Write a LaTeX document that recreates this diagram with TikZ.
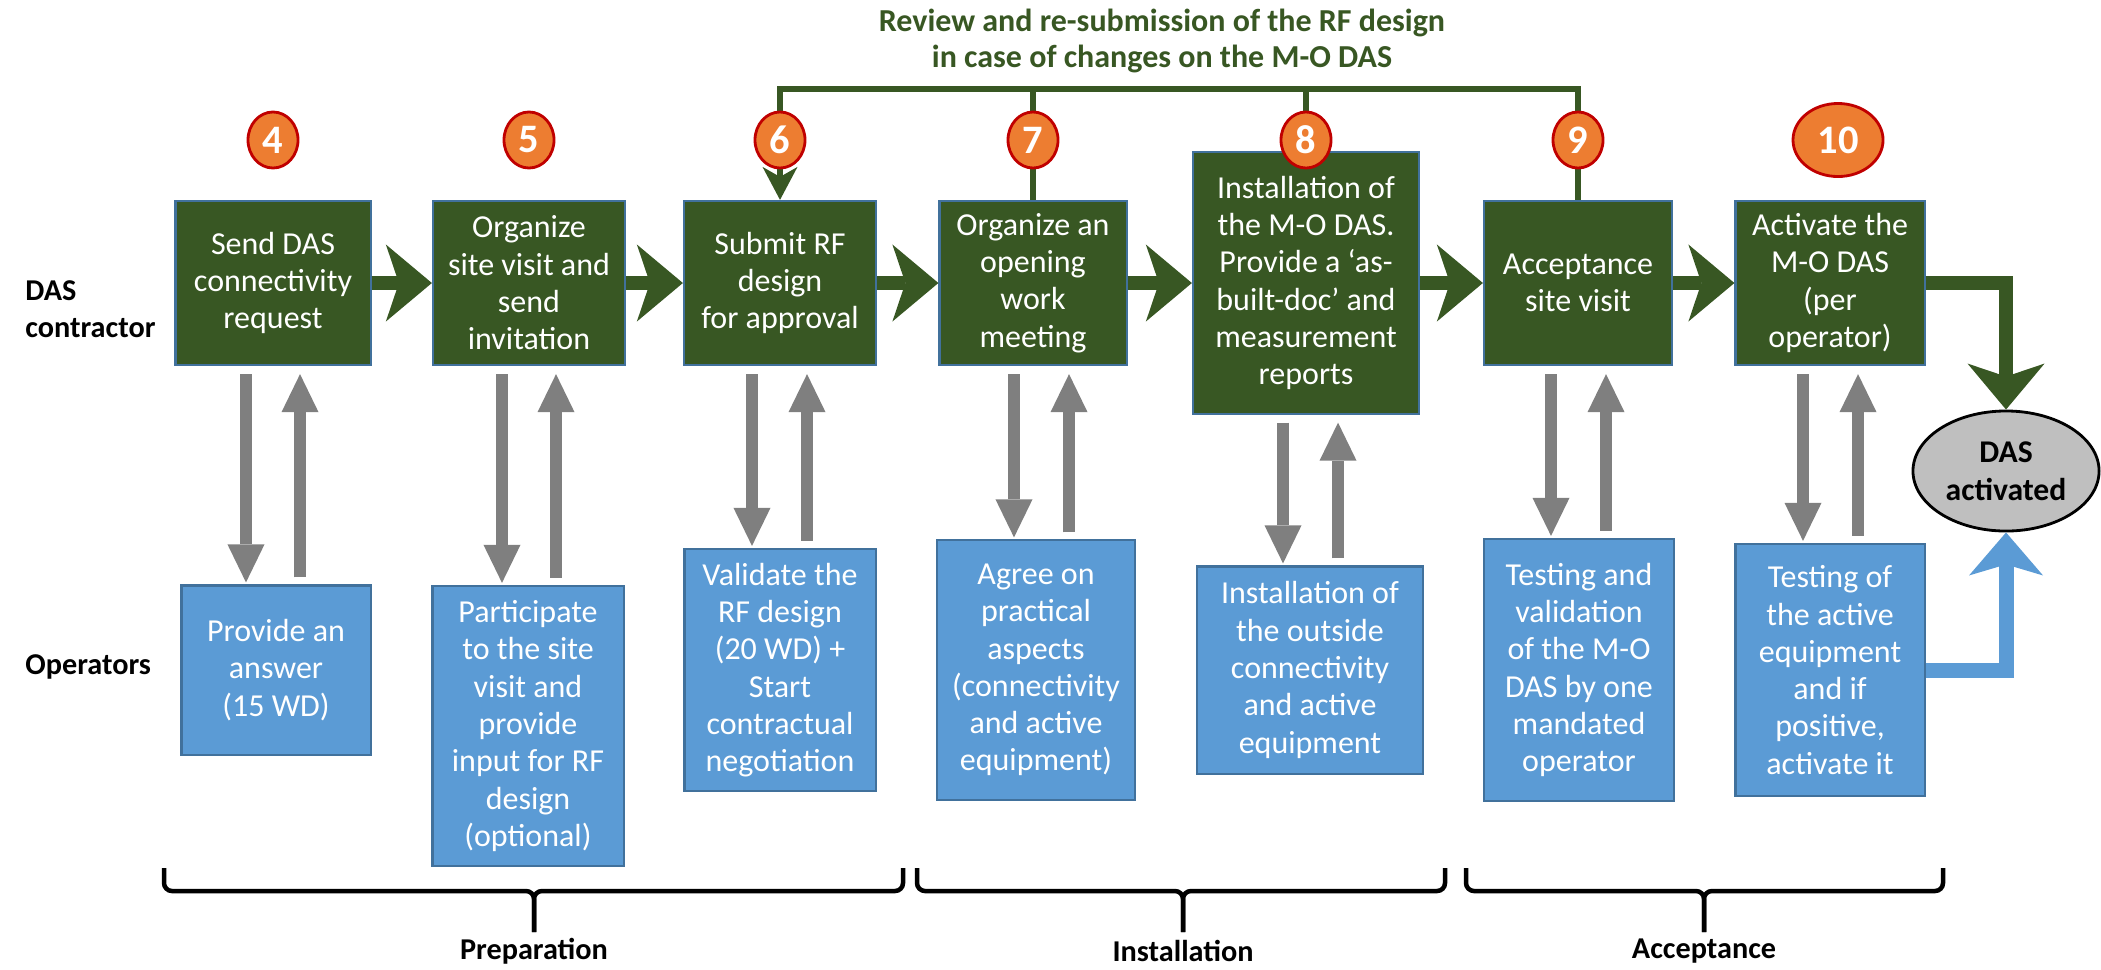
\documentclass[tikz,border=0pt]{standalone}
\usepackage{fontspec}
\setmainfont{Carlito}
\usepackage{tikz}
\usetikzlibrary{arrows.meta,shapes.geometric}
\definecolor{dasgreen}{HTML}{385723}
\definecolor{boxedge}{HTML}{41719C}
\definecolor{opblue}{HTML}{5B9BD5}
\definecolor{arrowgray}{HTML}{7F7F7F}
\definecolor{stepfill}{HTML}{ED7D31}
\definecolor{stepedge}{HTML}{C00000}
\definecolor{endgray}{HTML}{BFBFBF}
\tikzset{
  cbox/.style={draw=boxedge, line width=0.6pt, fill=dasgreen, text=white, align=center, inner sep=0pt, minimum width=1.92cm, minimum height=1.64cm},
  obox/.style={draw=boxedge, line width=0.6pt, fill=opblue, text=white, align=center, inner sep=0pt},
  stepnum/.style={ellipse, draw=stepedge, line width=0.8pt, fill=stepfill, text=white, font=\fontsize{11.5}{13}\selectfont\bfseries, inner sep=0pt, minimum width=0.5cm, minimum height=0.56cm},
  endnode/.style={ellipse, draw=black, line width=0.8pt, fill=endgray, align=center, inner sep=0pt, font=\fontsize{9}{10.8}\selectfont\bfseries, minimum width=1.86cm, minimum height=1.2cm},
  greenarrow/.style={draw=dasgreen, line width=0.14cm, line join=miter, -{Stealth[length=0.46cm, width=0.77cm, inset=0.13cm, line width=0pt]}},
  bluearrow/.style={draw=opblue, line width=0.15cm, line join=miter, -{Stealth[length=0.43cm, width=0.74cm, inset=0.11cm, line width=0pt]}},
  grayarrow/.style={draw=arrowgray, line width=0.12cm, -{Triangle[length=0.38cm, width=0.37cm, line width=0pt]}},
  fbline/.style={draw=dasgreen, line width=0.06cm, line join=miter},
  notetext/.style={text=dasgreen, align=center, font=\fontsize{9.1}{10.5}\selectfont\bfseries},
  rowlabel/.style={anchor=west, align=left, font=\fontsize{8.6}{10.5}\selectfont\bfseries},
  phase/.style={font=\fontsize{8.6}{10.5}\selectfont\bfseries},
  bracepath/.style={draw=black, line width=0.045cm, rounded corners=0.08cm}
}
\begin{document}
\begin{tikzpicture}[x=0.01cm, y=-0.01cm, font=\fontsize{9.1}{10.6}\selectfont]
\useasboundingbox (0,0) rectangle (2101,969);

\coordinate (fbtop) at (1162,89);
\node[notetext] (fbnote) at (1162,41) {Review and re-submission of the RF design\\in case of changes on the M-O DAS};

\node[rowlabel] (contr) at (13,309) {DAS\\contractor};
\node[rowlabel] (ops) at (13,667) {Operators};

\node[cbox, minimum width=1.95cm] (c4) at (273,283) {Send DAS\\connectivity\\request};
\node[cbox] (c5) at (529,283) {Organize\\site visit and\\send\\invitation};
\node[cbox] (c6) at (780,283) {Submit RF\\design\\for approval};
\node[cbox, minimum width=1.87cm] (c7) at (1033,283) {Organize an\\opening\\work\\meeting};
\node[cbox, minimum width=2.26cm, minimum height=2.61cm] (c8) at (1306,283) {Installation of\\the M-O DAS.\\Provide a `as-\\built-doc' and\\measurement\\reports};
\node[cbox, minimum width=1.88cm] (c9) at (1578,283) {Acceptance\\site visit};
\node[cbox, minimum width=1.89cm] (c10) at (1830,283) {Activate the\\M-O DAS\\(per\\operator)};

\node[obox, minimum width=1.89cm, minimum height=1.69cm] (o4) at (276,670) {Provide an\\answer\\(15 WD)};
\node[obox, minimum width=1.91cm, minimum height=2.8cm] (o5) at (528,726) {Participate\\to the site\\visit and\\provide\\input for RF\\design\\(optional)};
\node[obox, minimum width=1.91cm, minimum height=2.42cm] (o6) at (780,670) {Validate the\\RF design\\(20 WD) +\\Start\\contractual\\negotiation};
\node[obox, minimum width=1.98cm, minimum height=2.59cm] (o7) at (1036,670) {Agree on\\practical\\aspects\\(connectivity\\and active\\equipment)};
\node[obox, minimum width=2.26cm, minimum height=2.07cm] (o8) at (1310,670) {Installation of\\the outside\\connectivity\\and active\\equipment};
\node[obox, minimum width=1.9cm, minimum height=2.62cm] (o9) at (1579,670) {Testing and\\validation\\of the M-O\\DAS by one\\mandated\\operator};
\node[obox, minimum width=1.89cm, minimum height=2.52cm] (o10) at (1830,670) {Testing of\\the active\\equipment\\and if\\positive,\\activate it};

\node[endnode] (done) at (2006,471) {DAS\\activated};

\foreach \a/\b in {c4/c5,c5/c6,c6/c7,c7/c8,c8/c9,c9/c10}
  \draw[greenarrow] (\a.east) -- (\b.west);
\draw[greenarrow] (c10.east) -| (done.north);
\draw[bluearrow] (o10.east) -| (done.south);

\foreach \n/\l/\r in {4/-2.7mm/2.7mm, 5/-2.7mm/2.7mm, 6/-2.8mm/2.7mm, 7/-1.9mm/3.6mm, 8/-2.3mm/3.2mm, 9/-2.7mm/2.8mm, 10/-2.7mm/2.8mm} {
  \draw[grayarrow, shorten <=0.08cm, shorten >=0.02cm] ([xshift=\l]c\n.south) -- ([xshift=\l]c\n.south |- o\n.north);
  \draw[grayarrow, shorten <=0.07cm, shorten >=0.08cm] ([xshift=\r]c\n.south |- o\n.north) -- ([xshift=\r]c\n.south);
}

\draw[fbline, -{Stealth[length=0.33cm, width=0.35cm, inset=0.1cm, line width=0pt]}] (c9.north) -- (c9.north |- fbtop) -| (c6.north);
\draw[fbline] (c7.north) -- (c7.north |- fbtop);
\draw[fbline] (c8.north) -- (c8.north |- fbtop);

\node[stepnum] (n4) at (273,140) {4};
\node[stepnum] (n5) at (529,140) {5};
\node[stepnum] (n6) at (780,140) {6};
\node[stepnum] (n7) at (1033,140) {7};
\node[stepnum] (n8) at (1306,140) {8};
\node[stepnum] (n9) at (1578,140) {9};
\node[stepnum, minimum width=0.9cm, minimum height=0.73cm] (n10) at (1838,140) {10};

\foreach \l/\m/\r in {164/534/903, 917/1183/1445, 1466/1704/1943} {
  \draw[bracepath] (\l,868) -- (\l,891) -- (\m,891) -- (\m,932);
  \draw[bracepath] (\r,868) -- (\r,891) -- (\m,891) -- (\m,932);
}
\node[phase] (prep) at (534,951) {Preparation};
\node[phase] (inst) at (1183,951) {Installation};
\node[phase] (acc) at (1704,951) {Acceptance};

\end{tikzpicture}
\end{document}
